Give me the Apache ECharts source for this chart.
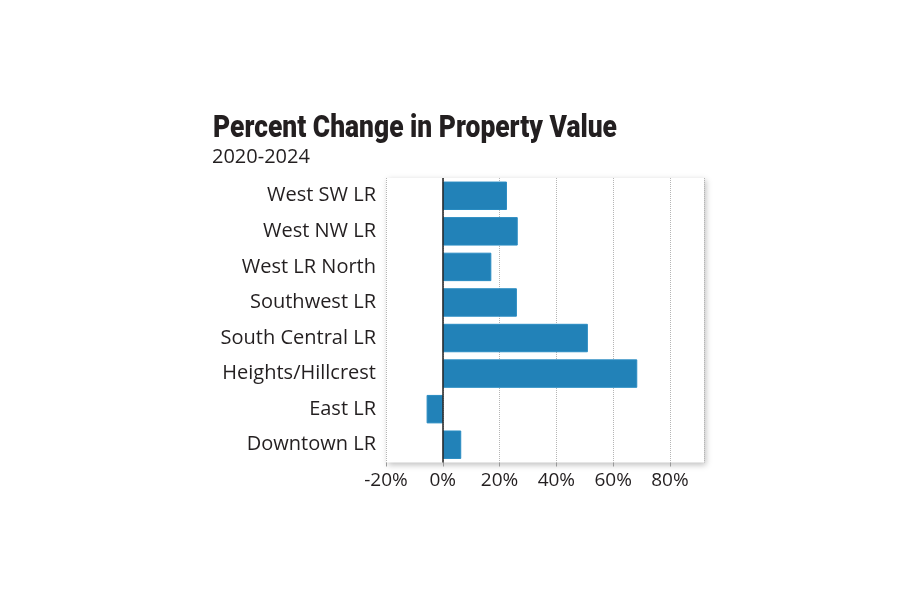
<!DOCTYPE html>
<html><head><meta charset="utf-8">
<script src="https://cdn.jsdelivr.net/npm/echarts@6/dist/echarts.min.js"></script>
<style>html,body{margin:0;padding:0;background:#fff}#c{width:920px;height:615px}</style>
</head><body><div id="c"></div>
<script>
const categories = ["West SW LR","West NW LR","West LR North","Southwest LR","South Central LR","Heights/Hillcrest","East LR","Downtown LR"];
const values = [22.6, 26.4, 17.1, 26.1, 51.1, 68.5, -5.7, 6.5];
const tickLabels = ["-20%","0%","20%","40%","60%","80%"];
const titleText = 'Percent Change in Property Value';
const subtitleText = '2020-2024';

const titleFont = '900 31px Roboto';
const cv = document.createElement('canvas').getContext('2d');
cv.font = titleFont;
const titleScale = 404 / cv.measureText(titleText).width;

const chart = echarts.init(document.getElementById('c'));
chart.setOption({
  animation: false,
  graphic: [
    {type: 'text', x: 213, y: 114, scaleX: titleScale, style: {text: titleText, font: titleFont, fill: '#231f20', textVerticalAlign: 'top'}},
    {type: 'text', x: 212, y: 147, style: {text: subtitleText, font: '20px "Open Sans"', fill: '#231f20', textVerticalAlign: 'top'}}
  ],
  grid: {
    left: 386, right: 216, top: 178, bottom: 152.5,
    show: true, backgroundColor: '#fff', borderWidth: 0,
    shadowBlur: 6, shadowColor: 'rgba(0,0,0,0.25)', shadowOffsetX: 2, shadowOffsetY: 2
  },
  xAxis: {
    type: 'value', min: -20, max: 92, interval: 20,
    axisLine: {show: false},
    axisTick: {show: true, length: 4, lineStyle: {color: '#999'}},
    axisLabel: {
      showMaxLabel: false, fontFamily: 'Open Sans', fontSize: 19, color: '#231f20', margin: 9,
      formatter: v => { const i = (v + 20) / 20; return Number.isInteger(i) && tickLabels[i] ? tickLabels[i] : ''; }
    },
    splitLine: {show: true, lineStyle: {type: 'dotted', color: '#b5b5b5', width: 1}}
  },
  yAxis: {
    type: 'category', data: categories, inverse: true,
    axisLine: {show: false}, axisTick: {show: false},
    axisLabel: {fontFamily: 'Open Sans', fontSize: 20, color: '#231f20', margin: 10, padding: [4, 0, 0, 0]}
  },
  series: [{
    type: 'bar', data: values, barCategoryGap: '20%',
    itemStyle: {color: '#2282b8', borderColor: '#2a8cc2', borderWidth: 1},
    markLine: {
      silent: true, symbol: 'none', label: {show: false},
      lineStyle: {color: '#222', type: 'solid', width: 1.5},
      data: [{xAxis: 0}]
    }
  }]
});
</script></body></html>
